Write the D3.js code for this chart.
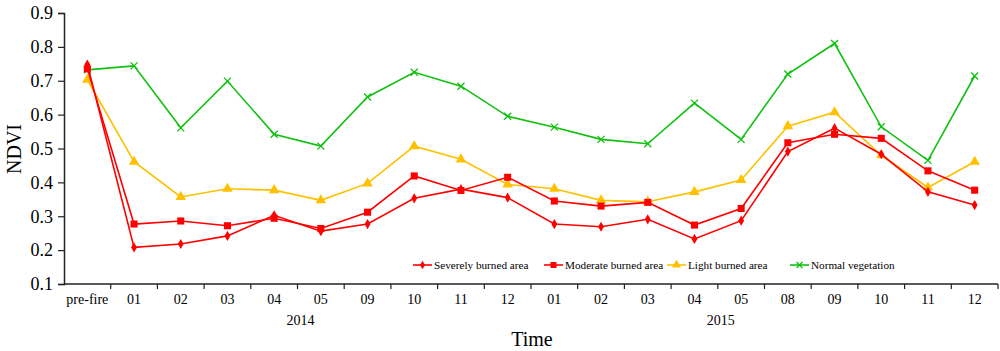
<!DOCTYPE html>
<html><head><meta charset="utf-8">
<script src="https://cdn.jsdelivr.net/npm/d3@7"></script>
<style>body{margin:0;background:#fff}svg{display:block}text{font-family:"Liberation Serif","Times New Roman",serif;fill:#000}</style>
</head><body><svg id="c" width="1000" height="351"></svg>
<script>
const categories = ["pre-fire","01","02","03","04","05","09","10","11","12","01","02","03","04","05","08","09","10","11","12"];
const years = [{label:"2014", after:4},{label:"2015", after:13}];
const severe   = [0.748,0.208,0.218,0.242,0.303,0.256,0.277,0.353,0.380,0.355,0.277,0.269,0.291,0.233,0.287,0.491,0.560,0.483,0.372,0.333];
const moderate = [0.735,0.277,0.286,0.272,0.294,0.264,0.312,0.419,0.376,0.415,0.345,0.330,0.341,0.274,0.323,0.517,0.542,0.530,0.434,0.377];
const light    = [0.703,0.461,0.357,0.381,0.377,0.347,0.397,0.507,0.468,0.394,0.381,0.347,0.343,0.372,0.407,0.566,0.607,0.480,0.385,0.461];
const normal   = [0.732,0.744,0.561,0.699,0.542,0.507,0.652,0.725,0.684,0.595,0.563,0.527,0.514,0.634,0.527,0.720,0.810,0.564,0.465,0.714];
const yTicks = [0.1,0.2,0.3,0.4,0.5,0.6,0.7,0.8,0.9];
const seriesNames = ["Severely burned area","Moderate burned area","Light burned area","Normal vegetation"];

const series = [
  {name:seriesNames[0], values:severe, color:"#ff0000", sym:"diamond"},
  {name:seriesNames[1], values:moderate, color:"#ff0000", sym:"square"},
  {name:seriesNames[2], values:light, color:"#ffc000", sym:"triangle"},
  {name:seriesNames[3], values:normal, color:"#10c010", sym:"x"}
];
const svg = d3.select("#c");
const L=64, R=998, T=13, B=284;
const x = d3.scaleBand().domain(d3.range(categories.length)).range([L,R]);
const y = d3.scaleLinear().domain([0.1,0.9]).range([B,T]);
const axisColor="#222";

// Y axis
const ya = svg.append("g").attr("transform",`translate(${L},0)`)
  .call(d3.axisLeft(y).tickValues(yTicks).tickFormat(d3.format(".1f")).tickSizeOuter(0).tickSize(6));
ya.select(".domain").attr("stroke",axisColor).attr("stroke-width",1.5);
ya.selectAll(".tick line").attr("stroke",axisColor).attr("stroke-width",1.2);
ya.selectAll(".tick text").attr("font-size",18).attr("x",-11).style("font-family","Liberation Serif");

// X axis
const xa = svg.append("g").attr("transform",`translate(0,${B})`)
  .call(d3.axisBottom(x).tickFormat(i=>categories[i]).tickSize(0).tickSizeOuter(0));
xa.select(".domain").attr("stroke",axisColor).attr("stroke-width",1.5).attr("d",`M${L},0H${R}`);
xa.selectAll(".tick text").attr("font-size",14).attr("y",10).style("font-family","Liberation Serif");
svg.append("g").selectAll("line").data(d3.range(1,categories.length+1)).join("line")
  .attr("x1",i=>L+i*x.step()).attr("x2",i=>L+i*x.step()).attr("y1",B).attr("y2",B+5)
  .attr("stroke",axisColor).attr("stroke-width",1.2);
svg.append("g").selectAll("text").data(years).join("text")
  .attr("x",d=>L+(d.after+1)*x.step()+3).attr("y",325).attr("text-anchor","middle").attr("font-size",14).text(d=>d.label);

// titles
svg.append("text").attr("x",532).attr("y",346).attr("text-anchor","middle").attr("font-size",20).text("Time");
svg.append("text").attr("transform","translate(21,149) rotate(-90)").attr("text-anchor","middle").attr("font-size",20).text("NDVI");

const symType = {diamond:d3.symbolDiamond, square:d3.symbolSquare, triangle:d3.symbolTriangle};
function marker(g, s, cx, cy, scale){
  if(s.sym==="x"){
    const r=3.5*scale;
    g.append("path").attr("d",`M${cx-r},${cy-r}L${cx+r},${cy+r}M${cx-r},${cy+r}L${cx+r},${cy-r}`)
      .attr("stroke",s.color).attr("stroke-width",1.3).attr("fill","none");
  } else {
    const size = s.sym==="diamond"?30:(s.sym==="square"?50:48);
    g.append("path").attr("d",d3.symbol().type(symType[s.sym]).size(size*scale*scale)())
      .attr("transform",`translate(${cx},${cy})`).attr("fill",s.color);
  }
}
const line = d3.line().x((d,i)=>x(i)+x.bandwidth()/2).y(d=>y(d));
[...series].reverse().forEach(s=>{
  const g=svg.append("g");
  g.append("path").attr("d",line(s.values)).attr("fill","none").attr("stroke",s.color).attr("stroke-width",1.6);
  s.values.forEach((v,i)=>marker(g,s,x(i)+x.bandwidth()/2,y(v),1));
});

// legend
const legX=[413,544,667,790];
series.forEach((s,k)=>{
  const g=svg.append("g");
  const cx=legX[k]+9.5, cy=265;
  g.append("line").attr("x1",legX[k]).attr("x2",legX[k]+19).attr("y1",cy).attr("y2",cy).attr("stroke",s.color).attr("stroke-width",1.6);
  marker(g,s,cx,cy,0.85);
  g.append("text").attr("x",legX[k]+21).attr("y",cy+4).attr("font-size",11.2).text(s.name);
});
</script></body></html>
